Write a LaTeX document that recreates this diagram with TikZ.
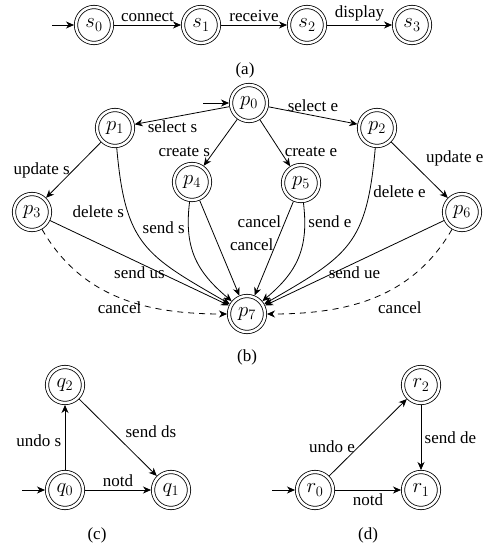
\documentclass[tikz,border=0pt]{standalone}
\usepackage{fontspec}
\setmainfont{Liberation Serif}
\usetikzlibrary{arrows.meta}
\tikzset{
  st/.style={circle, draw, double, double distance=2.5pt, line width=0.8pt,
    minimum size=36pt, inner sep=0pt, outer sep=2pt, font=\fontsize{19.5}{23}\selectfont},
  edg/.style={-{Stealth[length=8pt,width=7pt,inset=2.5pt]}, line width=0.8pt},
  dsh/.style={dash pattern=on 6pt off 5pt},
  captext/.style={inner sep=0pt}
}
\begin{document}
\begin{tikzpicture}[x=1pt,y=1pt,font=\fontsize{17}{20}\selectfont]
\useasboundingbox (0,0) rectangle (483,-545);
% (a)
\node[st] (s0) at (94,-25) {$s_0$};
\node[st] (s1) at (201,-25) {$s_1$};
\node[st] (s2) at (307,-25) {$s_2$};
\node[st] (s3) at (412,-25) {$s_3$};
\coordinate (si) at (52,-25);
\draw[edg] (si) -- (s0);
\draw[edg] (s0) -- node[above] (la1) {connect} (s1);
\draw[edg] (s1) -- node[above] (la2) {receive} (s2);
\draw[edg] (s2) -- node[above] (la3) {display} (s3);
\node[captext] (capa) at (245,-70) {(a)};
% (b)
\node[st] (p0) at (249,-103) {$p_0$};
\node[st] (p1) at (115,-128) {$p_1$};
\node[st] (p2) at (377,-128) {$p_2$};
\node[st] (p3) at (32,-212) {$p_3$};
\node[st] (p4) at (192,-182) {$p_4$};
\node[st] (p5) at (301,-183) {$p_5$};
\node[st] (p6) at (462,-212) {$p_6$};
\node[st] (p7) at (247,-314) {$p_7$};
\coordinate (pi) at (203,-103);
\draw[edg] (pi) -- (p0);
\draw[edg] (p0) -- node[below,pos=0.6] (lb1) {select s} (p1);
\draw[edg] (p0) -- node[above,pos=0.5] (lb2) {select e} (p2);
\draw[edg] (p0) -- node[left,pos=0.7] (lb3) {create s} (p4);
\draw[edg] (p0) -- node[right,pos=0.7] (lb4) {create e} (p5);
\draw[edg] (p1) -- node[left,pos=0.5] (lb5) {update s} (p3);
\draw[edg] (p2) -- node[above right,pos=0.5,xshift=3pt] (lb6) {update e} (p6);
\draw[edg] (p1) to[out=-85,in=150,looseness=1.3] node[left,pos=0.28] (lb7) {delete s} (p7);
\draw[edg] (p2) to[out=-95,in=30,looseness=1.3] node[right,pos=0.175] (lb8) {delete e} (p7);
\draw[edg] (p4) to[out=-97,in=140,looseness=1.1] node[left,pos=0.21] (lb9) {send s} (p7);
\draw[edg] (p5) to[out=-83,in=40,looseness=1.1] node[right,pos=0.15] (lb10) {send e} (p7);
\draw[edg] (p4) -- node[right,pos=0.47,xshift=8pt] (lb11) {cancel} (p7);
\draw[edg] (p5) -- node[left,pos=0.22] (lb12) {cancel} (p7);
\draw[edg] (p3) -- node[below,pos=0.5] (lb13) {send us} (p7);
\draw[edg] (p6) -- node[below,pos=0.5] (lb14) {send ue} (p7);
\draw[edg,dsh] (p3) to[out=-60,in=180] node[below,pos=0.5] (lb15) {cancel} (p7);
\draw[edg,dsh] (p6) to[out=-120,in=0] node[below right,pos=0.5] (lb16) {cancel} (p7);
\node[captext] (capb) at (247,-357) {(b)};
% (c)
\node[st] (q2) at (65,-385) {$q_2$};
\node[st] (q0) at (65,-490) {$q_0$};
\node[st] (q1) at (171,-490) {$q_1$};
\coordinate (qi) at (22,-490);
\draw[edg] (qi) -- (q0);
\draw[edg] (q0) -- node[left,pos=0.45] (lc1) {undo s} (q2);
\draw[edg] (q2) -- node[above right,pos=0.55] (lc2) {send ds} (q1);
\draw[edg] (q0) -- node[above] (lc3) {notd} (q1);
\node[captext] (capc) at (97,-535) {(c)};
% (d)
\node[st] (r2) at (421,-385) {$r_2$};
\node[st] (r0) at (315,-490) {$r_0$};
\node[st] (r1) at (421,-490) {$r_1$};
\coordinate (ri) at (272,-490);
\draw[edg] (ri) -- (r0);
\draw[edg] (r0) -- node[left,pos=0.38] (ld1) {undo e} (r2);
\draw[edg] (r2) -- node[right] (ld2) {send de} (r1);
\draw[edg] (r0) -- node[below] (ld3) {notd} (r1);
\node[captext] (capd) at (368,-535) {(d)};
\end{tikzpicture}
\end{document}
